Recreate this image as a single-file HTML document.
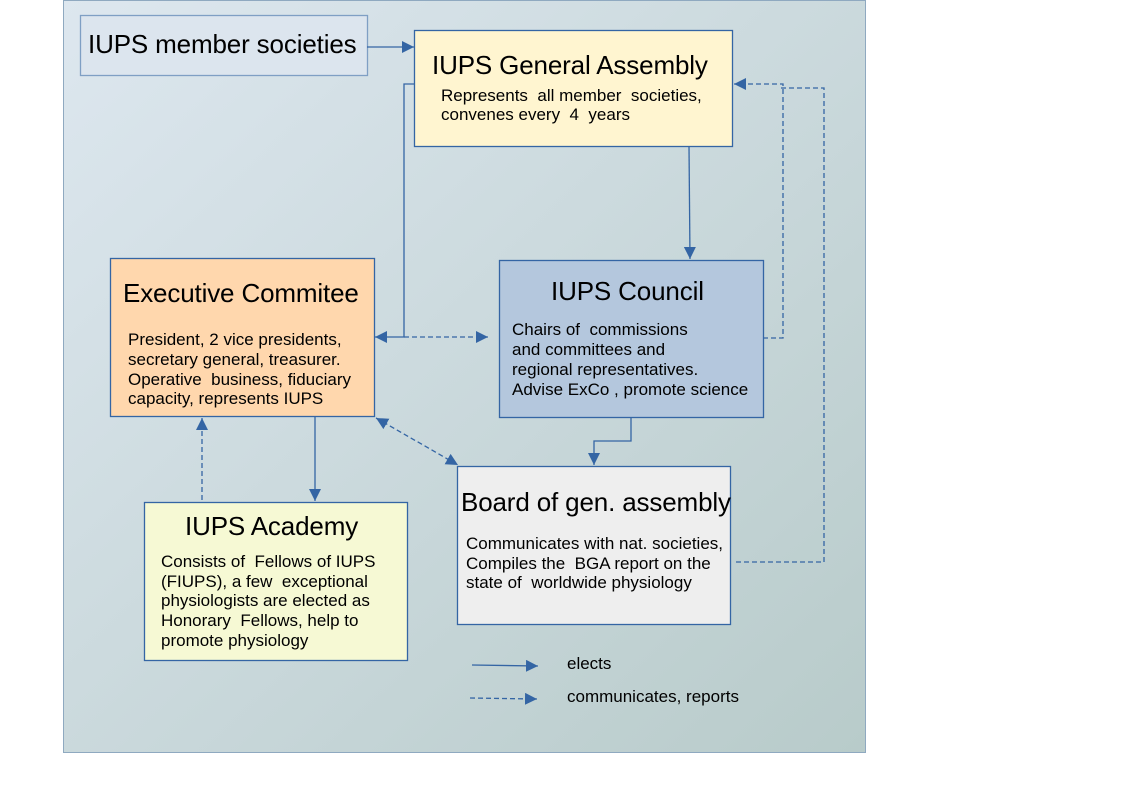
<!DOCTYPE html>
<html><head><meta charset="utf-8"><style>
html,body{margin:0;padding:0;background:#fff;}
svg{display:block;font-family:"Liberation Sans",sans-serif;}
text{white-space:pre;}
</style></head><body>
<svg width="1123" height="794" viewBox="0 0 1123 794" xmlns="http://www.w3.org/2000/svg" xml:space="preserve">
<defs>
<linearGradient id="bg" x1="0" y1="0" x2="1" y2="1">
<stop offset="0" stop-color="#dde7ef"/><stop offset="1" stop-color="#b8cbca"/>
</linearGradient>
<marker id="a" viewBox="0 0 10 10" refX="10" refY="5" markerWidth="12" markerHeight="12" markerUnits="userSpaceOnUse" orient="auto-start-reverse">
<path d="M0,0 L10,5 L0,10 z" fill="#3465a4"/></marker>
</defs>
<rect x="63.5" y="0.5" width="802" height="752" fill="url(#bg)" stroke="#8fa9c0"/>
<g stroke="#3465a4" stroke-width="1.3" fill="none">
<rect x="80.5" y="15.5" width="287" height="60" fill="#dce5ee" stroke="#7f9fc4"/>
<rect x="414.5" y="30.5" width="318" height="116" fill="#fff5d0"/>
<rect x="110.5" y="258.5" width="264" height="158" fill="#ffd7ad"/>
<rect x="499.5" y="260.5" width="264" height="157" fill="#b4c7dd"/>
<rect x="457.5" y="466.5" width="273" height="158" fill="#eeeeee"/>
<rect x="144.5" y="502.5" width="263" height="158" fill="#f6f9d4"/>
<line x1="367" y1="47" x2="414" y2="47" marker-end="url(#a)"/>
<polyline points="414,84 404,84 404,337 375,337" marker-end="url(#a)"/>
<line x1="689" y1="146" x2="690" y2="259" marker-end="url(#a)"/>
<polyline points="631,417 631,441 594,441 594,465" marker-end="url(#a)"/>
<line x1="315" y1="416" x2="315" y2="501" marker-end="url(#a)"/>
<line x1="472" y1="665" x2="538" y2="666" marker-end="url(#a)"/>
<g stroke-dasharray="5,3">
<line x1="404" y1="337" x2="488" y2="337" marker-end="url(#a)"/>
<polyline points="763,338 783,338 783,84 734,84" marker-end="url(#a)"/>
<polyline points="736,562 824,562 824,88 780,88"/>
<line x1="202" y1="500" x2="202" y2="418" marker-end="url(#a)"/>
<line x1="376" y1="418" x2="458" y2="465" marker-start="url(#a)" marker-end="url(#a)"/>
<line x1="470" y1="698" x2="537" y2="699" marker-end="url(#a)"/>
</g>
</g>
<g fill="#000">
<g font-size="26" letter-spacing="-0.15">
<text x="88" y="53">IUPS member societies</text>
<text x="432" y="74">IUPS General Assembly</text>
<text x="123" y="302">Executive Commitee</text>
<text x="551" y="300">IUPS Council</text>
<text x="461" y="511">Board of gen. assembly</text>
<text x="185" y="535">IUPS Academy</text>
</g>
<g font-size="17">
<text x="441" y="101">Represents  all member  societies,</text><text x="441" y="120">convenes every  4  years</text>
<text x="128" y="345">President, 2 vice presidents,</text><text x="128" y="365">secretary general, treasurer.</text><text x="128" y="385">Operative  business, fiduciary</text><text x="128" y="404">capacity, represents IUPS</text>
<text x="512" y="335">Chairs of  commissions</text><text x="512" y="355">and committees and</text><text x="512" y="375">regional representatives.</text><text x="512" y="395">Advise ExCo , promote science</text>
<text x="466" y="549">Communicates with nat. societies,</text><text x="466" y="569">Compiles the  BGA report on the</text><text x="466" y="588">state of  worldwide physiology</text>
<text x="161" y="567">Consists of  Fellows of IUPS</text><text x="161" y="587">(FIUPS), a few  exceptional</text><text x="161" y="606">physiologists are elected as</text><text x="161" y="626">Honorary  Fellows, help to</text><text x="161" y="646">promote physiology</text>
<text x="567" y="669">elects</text><text x="567" y="702">communicates, reports</text>
</g>
</g>
</svg>
</body></html>
